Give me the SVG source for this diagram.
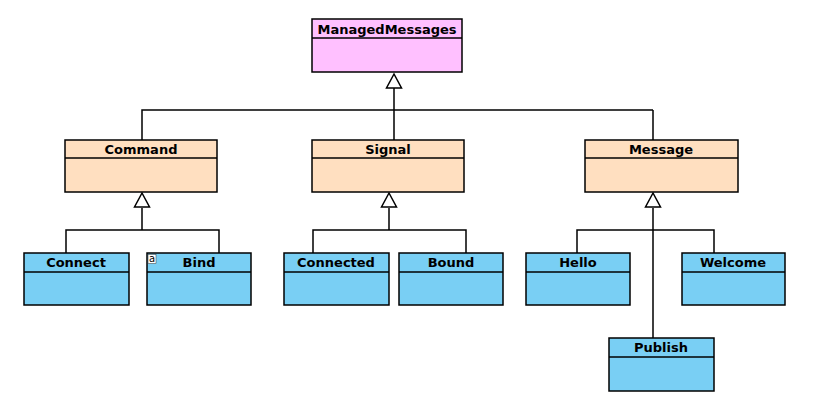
<svg xmlns="http://www.w3.org/2000/svg" width="817" height="417" viewBox="0 0 817 417">
<style>
.box{stroke:#000;stroke-width:1.5}
.pink{fill:#ffc0ff}
.peach{fill:#ffdfc0}
.blue{fill:#79cff4}
.t{font-family:"DejaVu Sans",sans-serif;font-weight:bold;font-size:13px;text-anchor:middle;fill:#000}
.c{fill:none;stroke:#000;stroke-width:1.5}
.tri{fill:#fff;stroke:#000;stroke-width:1.5}
</style>
<rect width="817" height="417" fill="#fff"/>
<g id="connectors">
<path class="c" d="M394 88V140M142 140V110H653M653 140V110"/>
<path class="c" d="M142 208V230M66 253V230H219V253"/>
<path class="c" d="M389 208V230M313 253V230H466V253"/>
<path class="c" d="M653 208V338M577 253V230H714V253"/>
<polygon class="tri" points="394,74 386.5,88 401.5,88"/>
<polygon class="tri" points="142,193 134.5,207 149.5,207"/>
<polygon class="tri" points="389,193 381.5,207 396.5,207"/>
<polygon class="tri" points="653,193 645.5,207 660.5,207"/>
</g>
<g id="ManagedMessages">
<rect class="box pink" x="312" y="19" width="150" height="53"/>
<line class="c" x1="312" y1="38" x2="462" y2="38"/>
<text class="t" x="387" y="34">ManagedMessages</text>
</g>
<g id="Command">
<rect class="box peach" x="65" y="140" width="152" height="52"/>
<line class="c" x1="65" y1="158" x2="217" y2="158"/>
<text class="t" x="141" y="154">Command</text>
</g>
<g id="Signal">
<rect class="box peach" x="312" y="140" width="152" height="52"/>
<line class="c" x1="312" y1="158" x2="464" y2="158"/>
<text class="t" x="388" y="154">Signal</text>
</g>
<g id="Message">
<rect class="box peach" x="585" y="140" width="153" height="52"/>
<line class="c" x1="585" y1="158" x2="738" y2="158"/>
<text class="t" x="661" y="154">Message</text>
</g>
<g id="Connect">
<rect class="box blue" x="24" y="253" width="105" height="52"/>
<line class="c" x1="24" y1="272" x2="129" y2="272"/>
<text class="t" x="76" y="267">Connect</text>
</g>
<g id="Bind">
<rect class="box blue" x="147" y="253" width="104" height="52"/>
<line class="c" x1="147" y1="272" x2="251" y2="272"/>
<rect x="148" y="254.5" width="8" height="9" fill="#fff" stroke="#333" stroke-width="0.5"/>
<text x="152" y="262" style="font-family:'DejaVu Sans',sans-serif;font-size:10px;text-anchor:middle">a</text>
<text class="t" x="199" y="267">Bind</text>
</g>
<g id="Connected">
<rect class="box blue" x="284" y="253" width="105" height="52"/>
<line class="c" x1="284" y1="272" x2="389" y2="272"/>
<text class="t" x="336" y="267">Connected</text>
</g>
<g id="Bound">
<rect class="box blue" x="399" y="253" width="104" height="52"/>
<line class="c" x1="399" y1="272" x2="503" y2="272"/>
<text class="t" x="451" y="267">Bound</text>
</g>
<g id="Hello">
<rect class="box blue" x="526" y="253" width="104" height="52"/>
<line class="c" x1="526" y1="272" x2="630" y2="272"/>
<text class="t" x="578" y="267">Hello</text>
</g>
<g id="Welcome">
<rect class="box blue" x="682" y="253" width="103" height="52"/>
<line class="c" x1="682" y1="272" x2="785" y2="272"/>
<text class="t" x="733" y="267">Welcome</text>
</g>
<g id="Publish">
<rect class="box blue" x="609" y="338" width="105" height="53"/>
<line class="c" x1="609" y1="357" x2="714" y2="357"/>
<text class="t" x="661" y="352">Publish</text>
</g>
</svg>
